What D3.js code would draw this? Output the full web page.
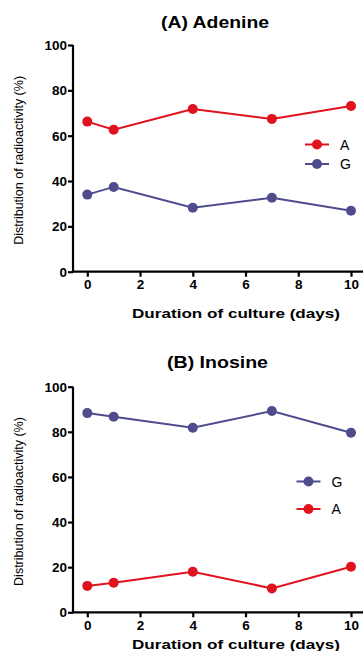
<!DOCTYPE html>
<html>
<head>
<meta charset="utf-8">
<script src="https://cdn.jsdelivr.net/npm/d3@7"></script>
<style>
  body { margin: 0; background: #fff; }
  svg { display: block; }
  text { font-family: "Liberation Sans", Arial, sans-serif; }
</style>
</head>
<body>
<svg id="chart" width="363" height="651"></svg>
<script>
const days = [0, 1, 4, 7, 10];
const xTicks = [0, 2, 4, 6, 8, 10];
const yTicks = [0, 20, 40, 60, 80, 100];

const adenineA = [66.2, 62.6, 71.8, 67.4, 73.1];
const adenineG = [34.0, 37.4, 28.2, 32.6, 26.9];
const inosineG = [88.3, 86.7, 81.8, 89.2, 79.6];
const inosineA = [11.7, 13.1, 18.0, 10.6, 20.2];

const red = '#e0121d';
const blue = '#4f4c8e';

const svg = d3.select('#chart');

// one panel: top = pixel of y=100, bottom = pixel of y=0
function drawPanel(opt) {
  const x = d3.scaleLinear().domain([0, 10]).range([87.3, 351]);
  const y = d3.scaleLinear().domain([0, 100]).range([opt.bottom, opt.top]);
  const g = svg.append('g');

  // the source picture is a bit stretched sideways, so text is widened
  g.append('text')
    .attr('x', opt.titleX).attr('y', opt.titleY)
    .attr('textLength', opt.titleW).attr('lengthAdjust', 'spacingAndGlyphs')
    .style('font-size', '16px').style('font-weight', 'bold')
    .text(opt.title);

  // y axis
  const yAxis = g.append('g')
    .attr('transform', 'translate(73,0)')
    .call(d3.axisLeft(y).tickValues(yTicks).tickSize(5).tickPadding(1));
  yAxis.select('.domain').attr('d', `M0,${opt.top}V${opt.bottom}`);

  // x axis
  const xAxis = g.append('g')
    .attr('transform', `translate(0,${opt.bottom})`)
    .call(d3.axisBottom(x).tickValues(xTicks).tickSize(5).tickPadding(3));
  xAxis.select('.domain').attr('d', 'M72,0H363');

  [yAxis, xAxis].forEach(a => {
    a.selectAll('.domain').attr('stroke', '#000').attr('stroke-width', 2.2);
    a.selectAll('.tick line').attr('stroke', '#000').attr('stroke-width', 2.2);
    a.selectAll('.tick text')
      .attr('fill', '#000')
      .style('font-size', '13.5px').style('font-weight', 'bold')
      .style('font-family', '"Liberation Sans", Arial, sans-serif');
  });

  g.append('text')
    .attr('transform', `translate(23,${(opt.top + opt.bottom) / 2 + 2}) rotate(-90)`)
    .attr('text-anchor', 'middle')
    .style('font-size', '12.5px')
    .text('Distribution of radioactivity (%)');

  g.append('text')
    .attr('x', 132).attr('y', opt.xLabelY)
    .attr('textLength', 208).attr('lengthAdjust', 'spacingAndGlyphs')
    .style('font-size', '13.5px').style('font-weight', 'bold')
    .text('Duration of culture (days)');

  const line = d3.line().x((d, i) => x(days[i])).y(d => y(d));

  opt.series.forEach(s => {
    g.append('path')
      .datum(s.values)
      .attr('d', line)
      .attr('fill', 'none')
      .attr('stroke', s.color)
      .attr('stroke-width', 2);
    g.selectAll(null)
      .data(s.values)
      .enter()
      .append('circle')
      .attr('cx', (d, i) => x(days[i]))
      .attr('cy', d => y(d))
      .attr('r', 5)
      .attr('fill', s.color);
  });

  // legend
  opt.series.forEach((s, i) => {
    const ly = opt.legendY + i * opt.legendGap;
    g.append('line')
      .attr('x1', opt.legendX - 12).attr('x2', opt.legendX + 12)
      .attr('y1', ly).attr('y2', ly)
      .attr('stroke', s.color).attr('stroke-width', 2);
    g.append('circle')
      .attr('cx', opt.legendX).attr('cy', ly).attr('r', 5)
      .attr('fill', s.color);
    g.append('text')
      .attr('x', opt.legendX + 23).attr('y', ly + 5)
      .style('font-size', '14px')
      .text(s.name);
  });
}

drawPanel({
  title: '(A) Adenine', titleX: 161, titleW: 108, titleY: 27.5,
  top: 45, bottom: 271.7, xLabelY: 318,
  legendX: 317, legendY: 144.5, legendGap: 19.5,
  series: [
    { name: 'A', values: adenineA, color: red },
    { name: 'G', values: adenineG, color: blue }
  ]
});

drawPanel({
  title: '(B) Inosine', titleX: 167, titleW: 101, titleY: 367.5,
  top: 386.7, bottom: 612.3, xLabelY: 648.5,
  legendX: 308.5, legendY: 481.5, legendGap: 27.5,
  series: [
    { name: 'G', values: inosineG, color: blue },
    { name: 'A', values: inosineA, color: red }
  ]
});
</script>
</body>
</html>
